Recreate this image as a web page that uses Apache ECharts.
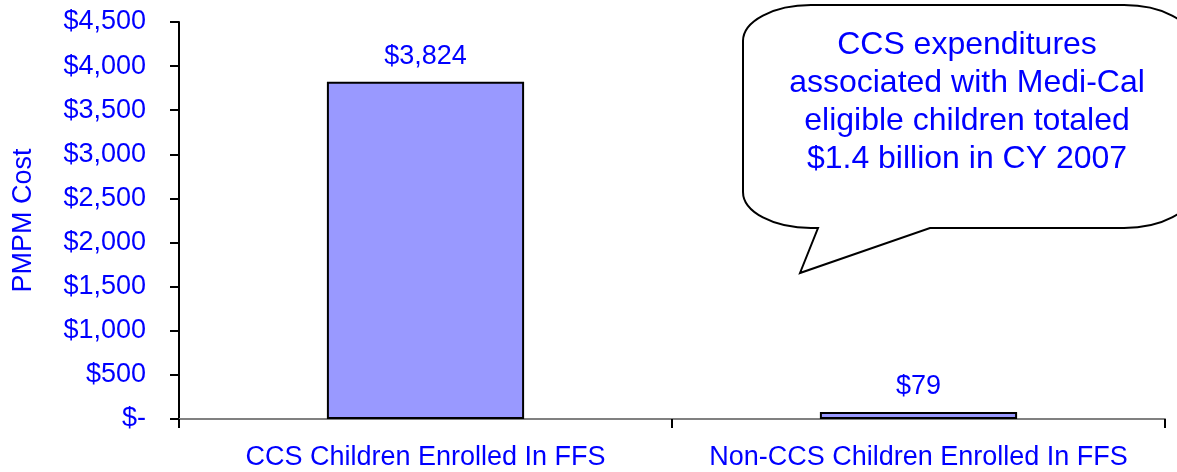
<!DOCTYPE html>
<html>
<head>
<meta charset="utf-8">
<script src="https://cdn.jsdelivr.net/npm/echarts@6/dist/echarts.min.js"></script>
<style>
  html, body { margin: 0; padding: 0; background: #fff; }
  #chart { width: 1177px; height: 472px; }
</style>
</head>
<body>
<div id="chart"></div>
<script>
var categories = ["CCS Children Enrolled In FFS", "Non-CCS Children Enrolled In FFS"];
var pmpmCost = [3824, 79];
var yTicks = [0, 500, 1000, 1500, 2000, 2500, 3000, 3500, 4000, 4500];
var calloutLines = [
  "CCS expenditures",
  "associated with Medi-Cal",
  "eligible children totaled",
  "$1.4 billion in CY 2007"
];

var blue = "#0000FF";
var font = "Liberation Sans, Arial, sans-serif";

function money(v) {
  if (v === 0) return "$-";
  return "$" + Number(v).toLocaleString("en-US");
}

// speech bubble shape: rounded box with elliptical corners + tail
var K = 0.5523;
var Bubble = echarts.graphic.extendShape({
  shape: { l: 0, t: 0, r: 0, b: 0, rx: 0, ry: 0, tail: [] },
  buildPath: function (ctx, s) {
    var l = s.l, t = s.t, r = s.r, b = s.b, rx = s.rx, ry = s.ry;
    ctx.moveTo(l, t + ry);
    ctx.bezierCurveTo(l, t + ry - ry * K, l + rx - rx * K, t, l + rx, t);
    ctx.lineTo(r - rx, t);
    ctx.bezierCurveTo(r - rx + rx * K, t, r, t + ry - ry * K, r, t + ry);
    ctx.lineTo(r, b - ry);
    ctx.bezierCurveTo(r, b - ry + ry * K, r - rx + rx * K, b, r - rx, b);
    for (var i = 0; i < s.tail.length; i++) ctx.lineTo(s.tail[i][0], s.tail[i][1]);
    ctx.lineTo(l + rx, b);
    ctx.bezierCurveTo(l + rx - rx * K, b, l, b - ry + ry * K, l, b - ry);
    ctx.closePath();
  }
});
echarts.graphic.registerShape("bubble", Bubble);

var chart = echarts.init(document.getElementById("chart"));

var option = {
  animation: false,
  backgroundColor: "#fff",
  textStyle: { fontFamily: font },
  grid: { left: 179, right: 12, top: 22, bottom: 53, containLabel: false },
  xAxis: {
    type: "category",
    data: categories,
    boundaryGap: true,
    axisLine: { show: true, lineStyle: { color: "#808080", width: 2 } },
    axisTick: { show: true, interval: 0, length: 9, alignWithLabel: false, lineStyle: { color: "#000", width: 2 } },
    axisLabel: { interval: 0, color: blue, fontSize: 27, fontFamily: font, margin: 25 },
    splitLine: { show: false }
  },
  yAxis: {
    type: "value",
    min: 0,
    max: yTicks[yTicks.length - 1],
    interval: 500,
    name: "PMPM Cost",
    nameLocation: "middle",
    nameGap: 142,
    nameTextStyle: { color: blue, fontSize: 27, fontFamily: font },
    axisLine: { show: true, lineStyle: { color: "#000", width: 2 } },
    axisTick: { show: true, length: 9, lineStyle: { color: "#000", width: 2 } },
    axisLabel: { color: blue, fontSize: 27, fontFamily: font, margin: 33, formatter: money },
    splitLine: { show: false }
  },
  series: [{
    type: "bar",
    data: pmpmCost,
    barWidth: "40%",
    itemStyle: { color: "#9999FF", borderColor: "#000", borderWidth: 2 },
    label: {
      show: true,
      position: "top",
      distance: 12,
      color: blue,
      fontSize: 27,
      fontFamily: font,
      formatter: function (p) { return money(p.value); }
    }
  }],
  graphic: [
    {
      type: "bubble",
      shape: { l: 743, t: 5, r: 1192, b: 228, rx: 68, ry: 36, tail: [[930, 228], [800, 273], [818, 228]] },
      style: { fill: "#fff", stroke: "#000", lineWidth: 2 },
      z: 10
    },
    {
      type: "text",
      x: 967,
      y: 26,
      z: 11,
      style: {
        text: calloutLines.join("\n"),
        fill: blue,
        font: "32px " + font,
        lineHeight: 38,
        align: "center",
        verticalAlign: "top"
      }
    }
  ]
};

chart.setOption(option);
window.addEventListener("resize", function () { chart.resize(); });
</script>
</body>
</html>
